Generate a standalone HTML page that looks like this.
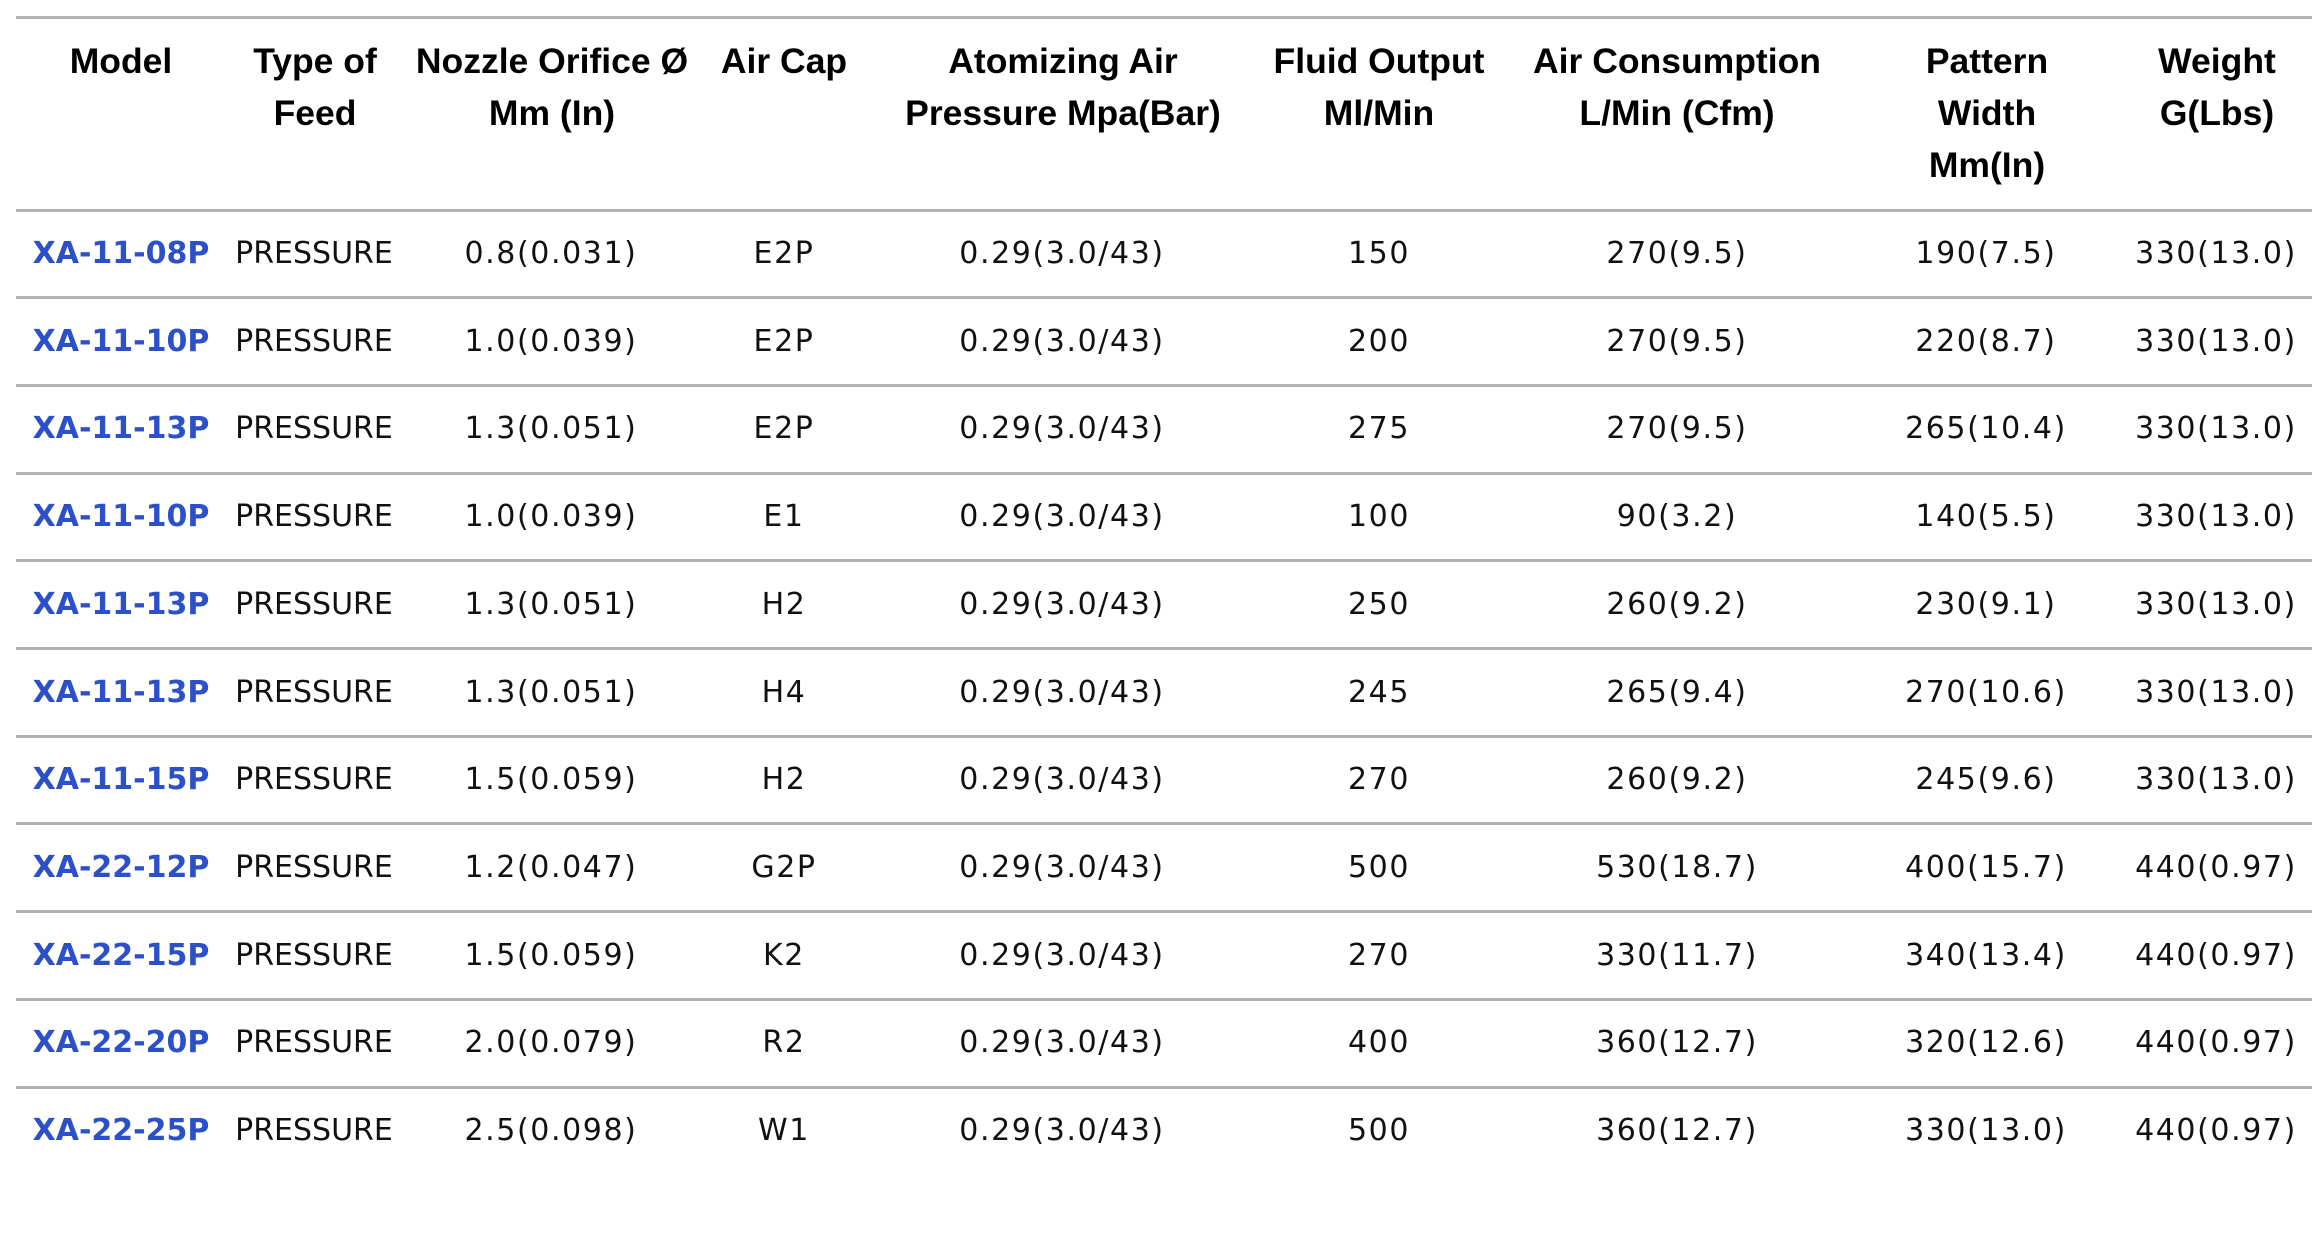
<!DOCTYPE html>
<html>
<head>
<meta charset="utf-8">
<style>
  html, body { margin:0; padding:0; background:#fff; }
  #wrap { position:relative; width:2312px; height:1250px; overflow:hidden; background:#fff; }
  .ln { position:absolute; left:16px; right:0; height:3px; background:#b2b2b2; }
  .h { position:absolute; top:35px; width:360px; margin-left:-180px; text-align:center;
       font-family:"Liberation Sans", Arial, sans-serif; font-weight:bold; font-size:35.5px;
       line-height:52px; color:#000; white-space:nowrap; }
  .c { position:absolute; width:360px; margin-left:-180px; height:40px; line-height:40px;
       text-align:center; font-family:"DejaVu Sans", "Liberation Sans", sans-serif; font-size:30px;
       color:#111; white-space:nowrap; letter-spacing:1.6px; }
  .m { font-weight:bold; color:#2b50c8; letter-spacing:0; }
  .p { letter-spacing:0; }
</style>
</head>
<body>
<div id="wrap">
  <div class="ln" style="top:16px"></div>
  <div class="ln" style="top:208.5px"></div>
  <div class="ln" style="top:296.2px"></div>
  <div class="ln" style="top:383.9px"></div>
  <div class="ln" style="top:471.6px"></div>
  <div class="ln" style="top:559.3px"></div>
  <div class="ln" style="top:647px"></div>
  <div class="ln" style="top:734.7px"></div>
  <div class="ln" style="top:822.4px"></div>
  <div class="ln" style="top:910.1px"></div>
  <div class="ln" style="top:997.8px"></div>
  <div class="ln" style="top:1085.5px"></div>

  <div class="h" style="left:121px">Model</div>
  <div class="h" style="left:315px">Type of<br>Feed</div>
  <div class="h" style="left:552px">Nozzle Orifice Ø<br>Mm (In)</div>
  <div class="h" style="left:784px">Air Cap</div>
  <div class="h" style="left:1063px">Atomizing Air<br>Pressure Mpa(Bar)</div>
  <div class="h" style="left:1379px">Fluid Output<br>Ml/Min</div>
  <div class="h" style="left:1677px">Air Consumption<br>L/Min (Cfm)</div>
  <div class="h" style="left:1987px">Pattern<br>Width<br>Mm(In)</div>
  <div class="h" style="left:2217px">Weight<br>G(Lbs)</div>

  <!-- Row 1 -->
  <div class="c m" style="left:121px;top:234px">XA-11-08P</div>
  <div class="c p" style="left:314px;top:234px">PRESSURE</div>
  <div class="c" style="left:551px;top:234px">0.8(0.031)</div>
  <div class="c" style="left:784px;top:234px">E2P</div>
  <div class="c" style="left:1062px;top:234px">0.29(3.0/43)</div>
  <div class="c" style="left:1379px;top:234px">150</div>
  <div class="c" style="left:1677px;top:234px">270(9.5)</div>
  <div class="c" style="left:1986px;top:234px">190(7.5)</div>
  <div class="c" style="left:2216px;top:234px">330(13.0)</div>

  <!-- Row 2 -->
  <div class="c m" style="left:121px;top:321.7px">XA-11-10P</div>
  <div class="c p" style="left:314px;top:321.7px">PRESSURE</div>
  <div class="c" style="left:551px;top:321.7px">1.0(0.039)</div>
  <div class="c" style="left:784px;top:321.7px">E2P</div>
  <div class="c" style="left:1062px;top:321.7px">0.29(3.0/43)</div>
  <div class="c" style="left:1379px;top:321.7px">200</div>
  <div class="c" style="left:1677px;top:321.7px">270(9.5)</div>
  <div class="c" style="left:1986px;top:321.7px">220(8.7)</div>
  <div class="c" style="left:2216px;top:321.7px">330(13.0)</div>

  <!-- Row 3 -->
  <div class="c m" style="left:121px;top:409.4px">XA-11-13P</div>
  <div class="c p" style="left:314px;top:409.4px">PRESSURE</div>
  <div class="c" style="left:551px;top:409.4px">1.3(0.051)</div>
  <div class="c" style="left:784px;top:409.4px">E2P</div>
  <div class="c" style="left:1062px;top:409.4px">0.29(3.0/43)</div>
  <div class="c" style="left:1379px;top:409.4px">275</div>
  <div class="c" style="left:1677px;top:409.4px">270(9.5)</div>
  <div class="c" style="left:1986px;top:409.4px">265(10.4)</div>
  <div class="c" style="left:2216px;top:409.4px">330(13.0)</div>

  <!-- Row 4 -->
  <div class="c m" style="left:121px;top:497.1px">XA-11-10P</div>
  <div class="c p" style="left:314px;top:497.1px">PRESSURE</div>
  <div class="c" style="left:551px;top:497.1px">1.0(0.039)</div>
  <div class="c" style="left:784px;top:497.1px">E1</div>
  <div class="c" style="left:1062px;top:497.1px">0.29(3.0/43)</div>
  <div class="c" style="left:1379px;top:497.1px">100</div>
  <div class="c" style="left:1677px;top:497.1px">90(3.2)</div>
  <div class="c" style="left:1986px;top:497.1px">140(5.5)</div>
  <div class="c" style="left:2216px;top:497.1px">330(13.0)</div>

  <!-- Row 5 -->
  <div class="c m" style="left:121px;top:584.8px">XA-11-13P</div>
  <div class="c p" style="left:314px;top:584.8px">PRESSURE</div>
  <div class="c" style="left:551px;top:584.8px">1.3(0.051)</div>
  <div class="c" style="left:784px;top:584.8px">H2</div>
  <div class="c" style="left:1062px;top:584.8px">0.29(3.0/43)</div>
  <div class="c" style="left:1379px;top:584.8px">250</div>
  <div class="c" style="left:1677px;top:584.8px">260(9.2)</div>
  <div class="c" style="left:1986px;top:584.8px">230(9.1)</div>
  <div class="c" style="left:2216px;top:584.8px">330(13.0)</div>

  <!-- Row 6 -->
  <div class="c m" style="left:121px;top:672.5px">XA-11-13P</div>
  <div class="c p" style="left:314px;top:672.5px">PRESSURE</div>
  <div class="c" style="left:551px;top:672.5px">1.3(0.051)</div>
  <div class="c" style="left:784px;top:672.5px">H4</div>
  <div class="c" style="left:1062px;top:672.5px">0.29(3.0/43)</div>
  <div class="c" style="left:1379px;top:672.5px">245</div>
  <div class="c" style="left:1677px;top:672.5px">265(9.4)</div>
  <div class="c" style="left:1986px;top:672.5px">270(10.6)</div>
  <div class="c" style="left:2216px;top:672.5px">330(13.0)</div>

  <!-- Row 7 -->
  <div class="c m" style="left:121px;top:760.2px">XA-11-15P</div>
  <div class="c p" style="left:314px;top:760.2px">PRESSURE</div>
  <div class="c" style="left:551px;top:760.2px">1.5(0.059)</div>
  <div class="c" style="left:784px;top:760.2px">H2</div>
  <div class="c" style="left:1062px;top:760.2px">0.29(3.0/43)</div>
  <div class="c" style="left:1379px;top:760.2px">270</div>
  <div class="c" style="left:1677px;top:760.2px">260(9.2)</div>
  <div class="c" style="left:1986px;top:760.2px">245(9.6)</div>
  <div class="c" style="left:2216px;top:760.2px">330(13.0)</div>

  <!-- Row 8 -->
  <div class="c m" style="left:121px;top:847.9px">XA-22-12P</div>
  <div class="c p" style="left:314px;top:847.9px">PRESSURE</div>
  <div class="c" style="left:551px;top:847.9px">1.2(0.047)</div>
  <div class="c" style="left:784px;top:847.9px">G2P</div>
  <div class="c" style="left:1062px;top:847.9px">0.29(3.0/43)</div>
  <div class="c" style="left:1379px;top:847.9px">500</div>
  <div class="c" style="left:1677px;top:847.9px">530(18.7)</div>
  <div class="c" style="left:1986px;top:847.9px">400(15.7)</div>
  <div class="c" style="left:2216px;top:847.9px">440(0.97)</div>

  <!-- Row 9 -->
  <div class="c m" style="left:121px;top:935.6px">XA-22-15P</div>
  <div class="c p" style="left:314px;top:935.6px">PRESSURE</div>
  <div class="c" style="left:551px;top:935.6px">1.5(0.059)</div>
  <div class="c" style="left:784px;top:935.6px">K2</div>
  <div class="c" style="left:1062px;top:935.6px">0.29(3.0/43)</div>
  <div class="c" style="left:1379px;top:935.6px">270</div>
  <div class="c" style="left:1677px;top:935.6px">330(11.7)</div>
  <div class="c" style="left:1986px;top:935.6px">340(13.4)</div>
  <div class="c" style="left:2216px;top:935.6px">440(0.97)</div>

  <!-- Row 10 -->
  <div class="c m" style="left:121px;top:1023.3px">XA-22-20P</div>
  <div class="c p" style="left:314px;top:1023.3px">PRESSURE</div>
  <div class="c" style="left:551px;top:1023.3px">2.0(0.079)</div>
  <div class="c" style="left:784px;top:1023.3px">R2</div>
  <div class="c" style="left:1062px;top:1023.3px">0.29(3.0/43)</div>
  <div class="c" style="left:1379px;top:1023.3px">400</div>
  <div class="c" style="left:1677px;top:1023.3px">360(12.7)</div>
  <div class="c" style="left:1986px;top:1023.3px">320(12.6)</div>
  <div class="c" style="left:2216px;top:1023.3px">440(0.97)</div>

  <!-- Row 11 -->
  <div class="c m" style="left:121px;top:1111px">XA-22-25P</div>
  <div class="c p" style="left:314px;top:1111px">PRESSURE</div>
  <div class="c" style="left:551px;top:1111px">2.5(0.098)</div>
  <div class="c" style="left:784px;top:1111px">W1</div>
  <div class="c" style="left:1062px;top:1111px">0.29(3.0/43)</div>
  <div class="c" style="left:1379px;top:1111px">500</div>
  <div class="c" style="left:1677px;top:1111px">360(12.7)</div>
  <div class="c" style="left:1986px;top:1111px">330(13.0)</div>
  <div class="c" style="left:2216px;top:1111px">440(0.97)</div>
</div>
</body>
</html>
